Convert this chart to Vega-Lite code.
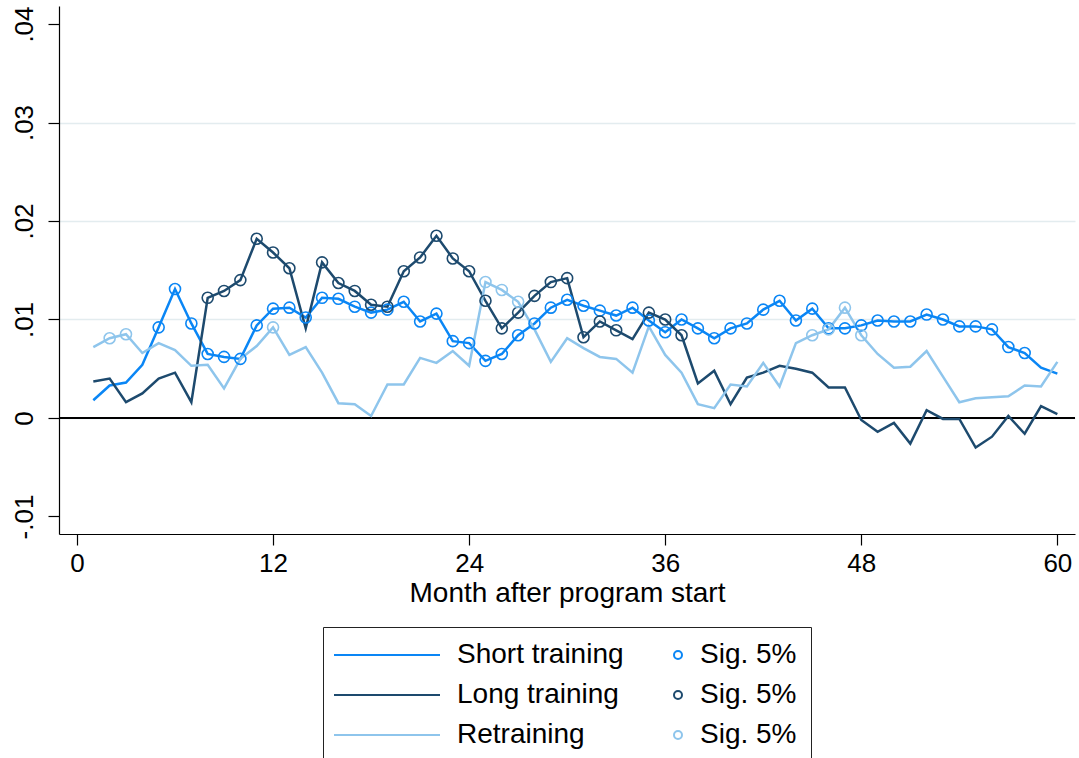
{
  "$schema": "https://vega.github.io/schema/vega-lite/v6.json",
  "width": 1016,
  "height": 528,
  "autosize": {"type": "none"},
  "padding": {"left": 59, "top": 6, "right": 4, "bottom": 224},
  "background": "white",
  "config": {
    "view": {"stroke": null},
    "font": "Liberation Sans",
    "axis": {
      "domainColor": "#000", "tickColor": "#000", "labelColor": "#000", "titleColor": "#000",
      "labelFont": "Liberation Sans", "titleFont": "Liberation Sans", "titleFontWeight": "normal",
      "tickSize": 11, "domainWidth": 1.2, "tickWidth": 1.2, "labelFlush": false, "labelOverlap": false
    }
  },
  "data": {"values": [
    {"m":1,"series":"Short training","v":0.0018},
    {"m":2,"series":"Short training","v":0.0033},
    {"m":3,"series":"Short training","v":0.0036},
    {"m":4,"series":"Short training","v":0.0054},
    {"m":5,"series":"Short training","v":0.0092,"sig":"s1"},
    {"m":6,"series":"Short training","v":0.0131,"sig":"s1"},
    {"m":7,"series":"Short training","v":0.0096,"sig":"s1"},
    {"m":8,"series":"Short training","v":0.0065,"sig":"s1"},
    {"m":9,"series":"Short training","v":0.0062,"sig":"s1"},
    {"m":10,"series":"Short training","v":0.0060,"sig":"s1"},
    {"m":11,"series":"Short training","v":0.0094,"sig":"s1"},
    {"m":12,"series":"Short training","v":0.0111,"sig":"s1"},
    {"m":13,"series":"Short training","v":0.0112,"sig":"s1"},
    {"m":14,"series":"Short training","v":0.0102,"sig":"s1"},
    {"m":15,"series":"Short training","v":0.0122,"sig":"s1"},
    {"m":16,"series":"Short training","v":0.0121,"sig":"s1"},
    {"m":17,"series":"Short training","v":0.0113,"sig":"s1"},
    {"m":18,"series":"Short training","v":0.0107,"sig":"s1"},
    {"m":19,"series":"Short training","v":0.0110,"sig":"s1"},
    {"m":20,"series":"Short training","v":0.0118,"sig":"s1"},
    {"m":21,"series":"Short training","v":0.0098,"sig":"s1"},
    {"m":22,"series":"Short training","v":0.0106,"sig":"s1"},
    {"m":23,"series":"Short training","v":0.0078,"sig":"s1"},
    {"m":24,"series":"Short training","v":0.0076,"sig":"s1"},
    {"m":25,"series":"Short training","v":0.0058,"sig":"s1"},
    {"m":26,"series":"Short training","v":0.0065,"sig":"s1"},
    {"m":27,"series":"Short training","v":0.0084,"sig":"s1"},
    {"m":28,"series":"Short training","v":0.0096,"sig":"s1"},
    {"m":29,"series":"Short training","v":0.0112,"sig":"s1"},
    {"m":30,"series":"Short training","v":0.0120,"sig":"s1"},
    {"m":31,"series":"Short training","v":0.0114,"sig":"s1"},
    {"m":32,"series":"Short training","v":0.0109,"sig":"s1"},
    {"m":33,"series":"Short training","v":0.0104,"sig":"s1"},
    {"m":34,"series":"Short training","v":0.0112,"sig":"s1"},
    {"m":35,"series":"Short training","v":0.0099,"sig":"s1"},
    {"m":36,"series":"Short training","v":0.0087,"sig":"s1"},
    {"m":37,"series":"Short training","v":0.0100,"sig":"s1"},
    {"m":38,"series":"Short training","v":0.0091,"sig":"s1"},
    {"m":39,"series":"Short training","v":0.0081,"sig":"s1"},
    {"m":40,"series":"Short training","v":0.0091,"sig":"s1"},
    {"m":41,"series":"Short training","v":0.0096,"sig":"s1"},
    {"m":42,"series":"Short training","v":0.0110,"sig":"s1"},
    {"m":43,"series":"Short training","v":0.0119,"sig":"s1"},
    {"m":44,"series":"Short training","v":0.0099,"sig":"s1"},
    {"m":45,"series":"Short training","v":0.0111,"sig":"s1"},
    {"m":46,"series":"Short training","v":0.0091,"sig":"s1"},
    {"m":47,"series":"Short training","v":0.0091,"sig":"s1"},
    {"m":48,"series":"Short training","v":0.0094,"sig":"s1"},
    {"m":49,"series":"Short training","v":0.0099,"sig":"s1"},
    {"m":50,"series":"Short training","v":0.0098,"sig":"s1"},
    {"m":51,"series":"Short training","v":0.0098,"sig":"s1"},
    {"m":52,"series":"Short training","v":0.0105,"sig":"s1"},
    {"m":53,"series":"Short training","v":0.0100,"sig":"s1"},
    {"m":54,"series":"Short training","v":0.0093,"sig":"s1"},
    {"m":55,"series":"Short training","v":0.0093,"sig":"s1"},
    {"m":56,"series":"Short training","v":0.0090,"sig":"s1"},
    {"m":57,"series":"Short training","v":0.0072,"sig":"s1"},
    {"m":58,"series":"Short training","v":0.0066,"sig":"s1"},
    {"m":59,"series":"Short training","v":0.0051},
    {"m":60,"series":"Short training","v":0.0045},
    {"m":1,"series":"Long training","v":0.0037},
    {"m":2,"series":"Long training","v":0.0040},
    {"m":3,"series":"Long training","v":0.0016},
    {"m":4,"series":"Long training","v":0.0025},
    {"m":5,"series":"Long training","v":0.0040},
    {"m":6,"series":"Long training","v":0.0046},
    {"m":7,"series":"Long training","v":0.0016},
    {"m":8,"series":"Long training","v":0.0122,"sig":"s2"},
    {"m":9,"series":"Long training","v":0.0129,"sig":"s2"},
    {"m":10,"series":"Long training","v":0.0140,"sig":"s2"},
    {"m":11,"series":"Long training","v":0.0182,"sig":"s2"},
    {"m":12,"series":"Long training","v":0.0168,"sig":"s2"},
    {"m":13,"series":"Long training","v":0.0152,"sig":"s2"},
    {"m":14,"series":"Long training","v":0.0091},
    {"m":15,"series":"Long training","v":0.0158,"sig":"s2"},
    {"m":16,"series":"Long training","v":0.0137,"sig":"s2"},
    {"m":17,"series":"Long training","v":0.0129,"sig":"s2"},
    {"m":18,"series":"Long training","v":0.0115,"sig":"s2"},
    {"m":19,"series":"Long training","v":0.0113,"sig":"s2"},
    {"m":20,"series":"Long training","v":0.0149,"sig":"s2"},
    {"m":21,"series":"Long training","v":0.0163,"sig":"s2"},
    {"m":22,"series":"Long training","v":0.0185,"sig":"s2"},
    {"m":23,"series":"Long training","v":0.0162,"sig":"s2"},
    {"m":24,"series":"Long training","v":0.0149,"sig":"s2"},
    {"m":25,"series":"Long training","v":0.0119,"sig":"s2"},
    {"m":26,"series":"Long training","v":0.0091,"sig":"s2"},
    {"m":27,"series":"Long training","v":0.0107,"sig":"s2"},
    {"m":28,"series":"Long training","v":0.0124,"sig":"s2"},
    {"m":29,"series":"Long training","v":0.0138,"sig":"s2"},
    {"m":30,"series":"Long training","v":0.0142,"sig":"s2"},
    {"m":31,"series":"Long training","v":0.0082,"sig":"s2"},
    {"m":32,"series":"Long training","v":0.0098,"sig":"s2"},
    {"m":33,"series":"Long training","v":0.0089,"sig":"s2"},
    {"m":34,"series":"Long training","v":0.0080},
    {"m":35,"series":"Long training","v":0.0107,"sig":"s2"},
    {"m":36,"series":"Long training","v":0.0100,"sig":"s2"},
    {"m":37,"series":"Long training","v":0.0084,"sig":"s2"},
    {"m":38,"series":"Long training","v":0.0035},
    {"m":39,"series":"Long training","v":0.0048},
    {"m":40,"series":"Long training","v":0.0014},
    {"m":41,"series":"Long training","v":0.0041},
    {"m":42,"series":"Long training","v":0.0046},
    {"m":43,"series":"Long training","v":0.0053},
    {"m":44,"series":"Long training","v":0.0050},
    {"m":45,"series":"Long training","v":0.0046},
    {"m":46,"series":"Long training","v":0.0031},
    {"m":47,"series":"Long training","v":0.0031},
    {"m":48,"series":"Long training","v":-0.0002},
    {"m":49,"series":"Long training","v":-0.0014},
    {"m":50,"series":"Long training","v":-0.0005},
    {"m":51,"series":"Long training","v":-0.0026},
    {"m":52,"series":"Long training","v":0.0008},
    {"m":53,"series":"Long training","v":-0.0001},
    {"m":54,"series":"Long training","v":-0.0001},
    {"m":55,"series":"Long training","v":-0.0030},
    {"m":56,"series":"Long training","v":-0.0019},
    {"m":57,"series":"Long training","v":0.0002},
    {"m":58,"series":"Long training","v":-0.0016},
    {"m":59,"series":"Long training","v":0.0012},
    {"m":60,"series":"Long training","v":0.0004},
    {"m":1,"series":"Retraining","v":0.0072},
    {"m":2,"series":"Retraining","v":0.0081,"sig":"s3"},
    {"m":3,"series":"Retraining","v":0.0085,"sig":"s3"},
    {"m":4,"series":"Retraining","v":0.0066},
    {"m":5,"series":"Retraining","v":0.0076},
    {"m":6,"series":"Retraining","v":0.0069},
    {"m":7,"series":"Retraining","v":0.0053},
    {"m":8,"series":"Retraining","v":0.0054},
    {"m":9,"series":"Retraining","v":0.0030},
    {"m":10,"series":"Retraining","v":0.0060},
    {"m":11,"series":"Retraining","v":0.0073},
    {"m":12,"series":"Retraining","v":0.0092,"sig":"s3"},
    {"m":13,"series":"Retraining","v":0.0064},
    {"m":14,"series":"Retraining","v":0.0072},
    {"m":15,"series":"Retraining","v":0.0046},
    {"m":16,"series":"Retraining","v":0.0015},
    {"m":17,"series":"Retraining","v":0.0014},
    {"m":18,"series":"Retraining","v":0.0002},
    {"m":19,"series":"Retraining","v":0.0034},
    {"m":20,"series":"Retraining","v":0.0034},
    {"m":21,"series":"Retraining","v":0.0061},
    {"m":22,"series":"Retraining","v":0.0056},
    {"m":23,"series":"Retraining","v":0.0068},
    {"m":24,"series":"Retraining","v":0.0053},
    {"m":25,"series":"Retraining","v":0.0138,"sig":"s3"},
    {"m":26,"series":"Retraining","v":0.0130,"sig":"s3"},
    {"m":27,"series":"Retraining","v":0.0118,"sig":"s3"},
    {"m":28,"series":"Retraining","v":0.0090},
    {"m":29,"series":"Retraining","v":0.0057},
    {"m":30,"series":"Retraining","v":0.0081},
    {"m":31,"series":"Retraining","v":0.0071},
    {"m":32,"series":"Retraining","v":0.0062},
    {"m":33,"series":"Retraining","v":0.0060},
    {"m":34,"series":"Retraining","v":0.0046},
    {"m":35,"series":"Retraining","v":0.0093},
    {"m":36,"series":"Retraining","v":0.0064},
    {"m":37,"series":"Retraining","v":0.0046},
    {"m":38,"series":"Retraining","v":0.0014},
    {"m":39,"series":"Retraining","v":0.0010},
    {"m":40,"series":"Retraining","v":0.0034},
    {"m":41,"series":"Retraining","v":0.0032},
    {"m":42,"series":"Retraining","v":0.0056},
    {"m":43,"series":"Retraining","v":0.0032},
    {"m":44,"series":"Retraining","v":0.0076},
    {"m":45,"series":"Retraining","v":0.0084,"sig":"s3"},
    {"m":46,"series":"Retraining","v":0.0090,"sig":"s3"},
    {"m":47,"series":"Retraining","v":0.0112,"sig":"s3"},
    {"m":48,"series":"Retraining","v":0.0084,"sig":"s3"},
    {"m":49,"series":"Retraining","v":0.0065},
    {"m":50,"series":"Retraining","v":0.0051},
    {"m":51,"series":"Retraining","v":0.0052},
    {"m":52,"series":"Retraining","v":0.0068},
    {"m":53,"series":"Retraining","v":0.0042},
    {"m":54,"series":"Retraining","v":0.0016},
    {"m":55,"series":"Retraining","v":0.0020},
    {"m":56,"series":"Retraining","v":0.0021},
    {"m":57,"series":"Retraining","v":0.0022},
    {"m":58,"series":"Retraining","v":0.0033},
    {"m":59,"series":"Retraining","v":0.0032},
    {"m":60,"series":"Retraining","v":0.0057}
  ]},
  "layer": [
    {
      "data": {"values": [{"z": 0}]},
      "mark": {"type": "rule", "color": "#000", "strokeWidth": 2},
      "encoding": {"y": {"field": "z", "type": "quantitative"}}
    },
    {
      "mark": {"type": "line", "strokeWidth": 2.5},
      "encoding": {
        "x": {"field": "m", "type": "quantitative",
          "scale": {"domain": [-1.1, 61.08], "nice": false, "zero": false},
          "axis": {"values": [0, 12, 24, 36, 48, 60], "title": "Month after program start", "grid": false,
                   "labelFontSize": 26, "titleFontSize": 28, "labelPadding": 5, "titlePadding": 3}},
        "y": {"field": "v", "type": "quantitative",
          "scale": {"domain": [-0.01178, 0.04183], "nice": false, "zero": false},
          "axis": {"values": [-0.01, 0, 0.01, 0.02, 0.03, 0.04], "title": null, "labelAngle": -90,
                   "labelFontSize": 26, "labelPadding": 11,
                   "labelExpr": "datum.value == 0 ? '0' : (datum.value < 0 ? '-.0' : '.0') + round(abs(datum.value) * 100)",
                   "grid": true, "gridWidth": 1.5,
                   "gridColor": {"condition": {"test": "datum.value > 0.035 || datum.value < -0.005", "value": "transparent"}, "value": "#e3ecef"}}},
        "color": {"field": "series", "type": "nominal",
          "scale": {"domain": ["Short training", "Long training", "Retraining", "s1", "s2", "s3"],
                    "range": ["#0a86f5", "#1d4a6e", "#8ec5ec", "#0a86f5", "#1d4a6e", "#8ec5ec"]},
          "legend": {"orient": "none", "legendX": 264, "legendY": 621, "columns": 2,
            "title": "\u00a0", "titleOrient": "left", "titleFontSize": 11, "titlePadding": 84,
            "labelExpr": "length(datum.value) < 3 ? 'Sig. 5%' : datum.label",
            "labelFont": "Liberation Sans", "labelFontSize": 28, "labelColor": "#000", "labelLimit": 400,
            "labelOffset": 8, "symbolSize": 64, "rowPadding": 12, "columnPadding": 40, "padding": 14,
            "strokeColor": "#222", "symbolStrokeWidth": 2}}
      }
    },
    {
      "transform": [{"filter": "datum.sig != null"}],
      "mark": {"type": "point", "filled": false, "size": 121, "strokeWidth": 1.6, "opacity": 1},
      "encoding": {
        "x": {"field": "m", "type": "quantitative"},
        "y": {"field": "v", "type": "quantitative"},
        "color": {"field": "sig", "type": "nominal",
          "scale": {"domain": ["Short training", "Long training", "Retraining", "s1", "s2", "s3"],
                    "range": ["#0a86f5", "#1d4a6e", "#8ec5ec", "#0a86f5", "#1d4a6e", "#8ec5ec"]}},
        "shape": {"field": "sig", "type": "nominal",
          "scale": {"domain": ["Short training", "Long training", "Retraining", "s1", "s2", "s3"],
                    "range": ["M-25.25,0H1.25", "M-25.25,0H1.25", "M-25.25,0H1.25", "circle", "circle", "circle"]}}
      }
    }
  ]
}
